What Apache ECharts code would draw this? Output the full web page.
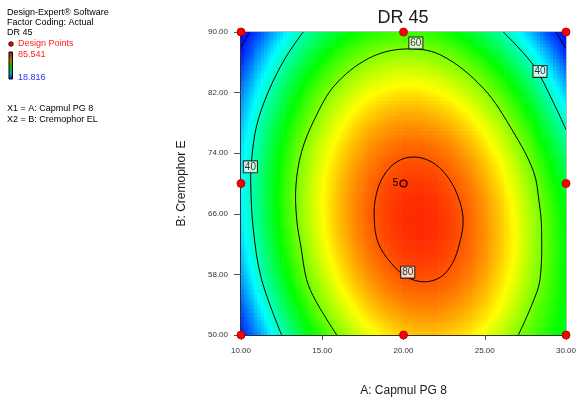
<!DOCTYPE html>
<html>
<head>
<meta charset="utf-8">
<script src="https://cdn.jsdelivr.net/npm/echarts@6/dist/echarts.min.js"></script>
<style>
  html, body { margin: 0; padding: 0; background: #fff; }
  #chart { width: 581px; height: 403px; }
</style>
</head>
<body>
<div id="chart"></div>
<script>
// A: Capmul PG 8 (columns) and B: Cremophor EL (rows) of the response grid
const capmulLevels = [10, 11, 12, 13, 14, 15, 16, 17, 18, 19, 20, 21, 22, 23, 24, 25, 26, 27, 28, 29, 30];
const cremophorLevels = [50, 52.5, 55, 57.5, 60, 62.5, 65, 67.5, 70, 72.5, 75, 77.5, 80, 82.5, 85, 87.5, 90];

// DR 45, one row per Cremophor level (bottom to top)
const dr45Grid = [
  [21.0, 27.6, 35.8, 43.2, 49.7, 55.4, 60.4, 64.5, 67.7, 70.2, 71.8, 72.7, 72.7, 71.8, 70.2, 67.7, 64.5, 60.4, 57.0, 53.5, 50.0],
  [22.5, 31.4, 39.5, 46.9, 53.3, 59.0, 63.9, 67.9, 71.1, 73.5, 75.0, 75.8, 75.7, 74.8, 73.1, 70.6, 67.2, 63.0, 58.6, 54.8, 51.0],
  [25.9, 34.8, 42.8, 50.1, 56.5, 62.1, 66.8, 70.8, 73.9, 76.2, 77.7, 78.3, 78.2, 77.2, 75.4, 72.8, 69.4, 65.1, 60.0, 55.8, 51.5],
  [28.8, 37.5, 45.5, 52.7, 59.0, 64.5, 69.2, 73.1, 76.1, 78.3, 79.8, 80.3, 80.1, 79.1, 77.2, 74.5, 71.0, 66.7, 61.5, 56.5, 51.5],
  [31.0, 39.7, 47.6, 54.7, 61.0, 66.4, 71.0, 74.8, 77.8, 79.9, 81.3, 81.8, 81.5, 80.4, 78.4, 75.7, 72.1, 67.7, 62.4, 57.0, 52.0],
  [32.8, 41.4, 49.2, 56.2, 62.4, 67.8, 72.3, 76.0, 78.9, 81.0, 82.2, 82.7, 82.3, 81.1, 79.1, 76.2, 72.5, 68.1, 62.8, 57.0, 52.0],
  [33.9, 42.5, 50.2, 57.2, 63.3, 68.5, 73.0, 76.6, 79.5, 81.5, 82.6, 83.0, 82.5, 81.3, 79.2, 76.2, 72.5, 67.9, 62.6, 56.8, 51.5],
  [34.6, 43.1, 50.7, 57.6, 63.6, 68.8, 73.2, 76.7, 79.5, 81.4, 82.5, 82.8, 82.2, 80.9, 78.7, 75.7, 71.9, 67.2, 61.8, 56.0, 50.5],
  [34.6, 43.0, 50.6, 57.4, 63.3, 68.5, 72.8, 76.2, 78.9, 80.8, 81.8, 82.0, 81.4, 79.9, 77.7, 74.6, 70.7, 66.0, 60.5, 54.5, 49.0],
  [34.1, 42.4, 49.9, 56.6, 62.5, 67.6, 71.8, 75.2, 77.8, 79.6, 80.5, 80.6, 80.0, 78.4, 76.1, 73.0, 69.0, 64.2, 58.6, 52.5, 46.5],
  [33.1, 41.4, 48.8, 55.4, 61.2, 66.2, 70.3, 73.6, 76.1, 77.8, 78.7, 78.7, 78.0, 76.4, 74.0, 70.7, 66.7, 61.8, 56.1, 50.0, 43.5],
  [31.5, 39.6, 47.0, 53.5, 59.2, 64.1, 68.2, 71.5, 73.9, 75.5, 76.3, 76.3, 75.4, 73.8, 71.3, 68.0, 63.9, 58.9, 53.2, 46.6, 40.0],
  [29.3, 37.4, 44.6, 51.1, 56.7, 61.6, 65.6, 68.8, 71.1, 72.7, 73.4, 73.3, 72.4, 70.6, 68.1, 64.7, 60.5, 55.5, 49.6, 43.0, 35.5],
  [26.6, 34.6, 41.8, 48.2, 53.7, 58.5, 62.4, 65.5, 67.8, 69.2, 69.9, 69.7, 68.7, 66.9, 64.2, 60.8, 56.5, 51.4, 45.5, 38.7, 31.2],
  [23.3, 31.2, 38.3, 44.6, 50.1, 54.8, 58.6, 61.7, 63.9, 65.3, 65.8, 65.6, 64.5, 62.6, 59.9, 56.4, 52.0, 46.8, 40.8, 34.0, 26.4],
  [19.5, 27.3, 34.4, 40.6, 46.0, 50.6, 54.4, 57.3, 59.4, 60.7, 61.2, 60.9, 59.7, 57.8, 55.0, 51.3, 46.9, 41.6, 35.6, 28.7, 21.0],
  [19.0, 22.8, 29.8, 36.0, 41.3, 45.8, 49.5, 52.4, 54.4, 55.6, 56.0, 55.6, 54.4, 52.4, 49.5, 45.8, 41.3, 36.0, 29.8, 22.8, 19.0]
];
const dr45Min = 18.816;
const dr45Max = 85.541;
const rampColors = ['#0000ff', '#00ffff', '#00ff00', '#ffff00', '#ff0000'];

const xTicks = [10, 15, 20, 25, 30];
const yTicks = [50, 58, 66, 74, 82, 90];

// design points; the centre point carries the replicate count
const designPoints = [[10, 50], [20, 50], [30, 50], [10, 70], [30, 70], [10, 90], [20, 90], [30, 90]];
const centerPoint = [[20, 70, 5]];

// contour lines
const contour20Left = [[10, 88.0], [10.55, 90]];
const contour20Right = [[29.38, 90], [30, 87.85]];
const contour40Left = [[13.83, 90], [12.71, 86.5], [11.68, 82.1], [10.97, 77.7], [10.66, 73.3], [10.6, 70], [10.76, 63.9], [11.27, 57.3], [12.5, 50]];
const contour40Right = [[26.14, 90], [28.0, 85.6], [29.2, 80.8], [30, 77.1]];
const contour60 = [[15.89, 50], [14.6, 54.5], [14.04, 57.3], [13.7, 61.5], [13.43, 65.2], [13.38, 69.7], [13.73, 74.2], [14.55, 78.6], [15.78, 83.0], [17.84, 86.5], [20.0, 87.75], [22.25, 87.0], [24.9, 82.6], [26.76, 76.8], [28.0, 71.6], [28.35, 67.5], [28.5, 63.9], [28.4, 57.3], [27.9, 54.0], [27.07, 50]];
const contour80 = [[20.6, 73.5], [21.69, 72.89], [22.64, 71.1], [23.33, 68.43], [23.67, 65.27], [23.45, 62.11], [23.0, 59.44], [22.29, 57.65], [21.28, 57.02], [20.21, 57.65], [19.26, 59.44], [18.45, 62.11], [18.2, 65.27], [18.31, 68.43], [18.8, 71.1], [19.61, 72.89]];
const contourLabels = [[20.76, 88.55, '60'], [28.4, 84.8, '40'], [10.58, 72.2, '40'], [20.26, 58.3, '80']];

const FONT = 'Arial, "Liberation Sans", sans-serif';
const SUB = 5; // pixel blocks per grid cell side when painting the surface

const nA = capmulLevels.length;
const nB = cremophorLevels.length;
const cells = [];
cremophorLevels.forEach((b, j) => {
  capmulLevels.forEach((a, i) => cells.push([a, b, dr45Grid[j][i]]));
});

function rampColor(v) {
  const t = Math.min(1, Math.max(0, (v - dr45Min) / (dr45Max - dr45Min)));
  return echarts.color.lerp(t, rampColors);
}

// paint the patch between neighbouring grid nodes in small blocks
function renderSurface(params, api) {
  const i = params.dataIndex % nA;
  const j = Math.floor(params.dataIndex / nA);
  if (i === nA - 1 || j === nB - 1) return null;
  const v00 = dr45Grid[j][i], v10 = dr45Grid[j][i + 1];
  const v01 = dr45Grid[j + 1][i], v11 = dr45Grid[j + 1][i + 1];
  const a0 = capmulLevels[i], a1 = capmulLevels[i + 1];
  const b0 = cremophorLevels[j], b1 = cremophorLevels[j + 1];
  const cs = params.coordSys;
  const children = [];
  for (let s = 0; s < SUB; s++) {
    for (let t = 0; t < SUB; t++) {
      const u = (s + 0.5) / SUB, w = (t + 0.5) / SUB;
      const v = v00 * (1 - u) * (1 - w) + v10 * u * (1 - w) + v01 * (1 - u) * w + v11 * u * w;
      const p0 = api.coord([a0 + (a1 - a0) * s / SUB, b0 + (b1 - b0) * (t + 1) / SUB]);
      const p1 = api.coord([a0 + (a1 - a0) * (s + 1) / SUB, b0 + (b1 - b0) * t / SUB]);
      const x1 = Math.min(p1[0] + 0.6, cs.x + cs.width);
      const y1 = Math.min(p1[1] + 0.6, cs.y + cs.height);
      children.push({
        type: 'rect',
        shape: { x: p0[0], y: p0[1], width: x1 - p0[0], height: y1 - p0[1] },
        style: { fill: rampColor(v) }
      });
    }
  }
  return { type: 'group', children: children };
}

// one contour per series, drawn as a smoothed path through its traced points
function contourSeries(points, closed) {
  return {
    type: 'custom', data: points, silent: true, z: 3,
    renderItem: (params, api) => {
      if (params.dataIndex !== 0) return null;
      const cs = params.coordSys;
      return {
        type: closed ? 'polygon' : 'polyline',
        shape: { points: points.map(p => api.coord(p)), smooth: 0.35 },
        style: { fill: 'none', stroke: '#000', lineWidth: 1 },
        clipPath: { type: 'rect', shape: { x: cs.x, y: cs.y, width: cs.width, height: cs.height } }
      };
    }
  };
}

const chart = echarts.init(document.getElementById('chart'));
chart.setOption({
  animation: false,
  title: {
    text: 'DR 45', left: 403, top: 9, padding: 0, textAlign: 'center',
    textStyle: { fontFamily: FONT, fontSize: 18, fontWeight: 'normal', color: '#1a1a1a' }
  },
  grid: { left: 241, right: 15, top: 32, bottom: 68, show: true, borderColor: '#777', borderWidth: 1 },
  xAxis: {
    type: 'value', min: 10, max: 30, interval: 5,
    name: 'A: Capmul PG 8', nameLocation: 'middle', nameGap: 50,
    nameTextStyle: { fontFamily: FONT, fontSize: 12, color: '#1a1a1a' },
    axisLine: { lineStyle: { color: '#000', width: 1.5 } },
    axisTick: { show: true, length: 5, lineStyle: { color: '#555' }, customValues: xTicks },
    axisLabel: { fontFamily: FONT, fontSize: 8, color: '#333', margin: 12, customValues: xTicks,
      formatter: v => v.toFixed(2) },
    splitLine: { show: false }
  },
  yAxis: {
    type: 'value', min: 50, max: 90,
    name: 'B: Cremophor E', nameLocation: 'middle', nameGap: 53,
    nameTextStyle: { fontFamily: FONT, fontSize: 12, color: '#1a1a1a' },
    axisLine: { show: true, lineStyle: { color: '#000', width: 1.5 } },
    axisTick: { show: true, length: 7, lineStyle: { color: '#555' }, customValues: yTicks },
    axisLabel: { fontFamily: FONT, fontSize: 8, color: '#333', margin: 13, customValues: yTicks,
      formatter: v => v.toFixed(2) },
    splitLine: { show: false }
  },
  series: [
    { type: 'custom', data: cells, silent: true, z: 1, renderItem: renderSurface },
    contourSeries(contour20Left, false),
    contourSeries(contour20Right, false),
    contourSeries(contour40Left, false),
    contourSeries(contour40Right, false),
    contourSeries(contour60, false),
    contourSeries(contour80, true),
    {
      type: 'scatter', data: contourLabels, symbolSize: 0, silent: true, z: 4,
      label: {
        show: true, position: 'inside', formatter: p => p.data[2],
        fontFamily: FONT, fontSize: 10, color: '#000', backgroundColor: '#fff',
        borderColor: '#000', borderWidth: 1, padding: [1, 1, 0, 1]
      }
    },
    {
      type: 'scatter', data: designPoints, symbolSize: 8, clip: false, silent: true, z: 5,
      itemStyle: { color: '#ff0000', borderColor: '#a00000', borderWidth: 0.8, opacity: 1 }
    },
    {
      type: 'scatter', data: centerPoint, symbolSize: 7, clip: false, silent: true, z: 5,
      itemStyle: { color: '#ff2a00', borderColor: '#000', borderWidth: 1.2, opacity: 1 },
      label: { show: true, position: 'left', distance: 1, formatter: p => p.data[2],
        fontFamily: FONT, fontSize: 10, color: '#000' }
    }
  ],
  graphic: [
    { type: 'text', left: 7, top: 8, style: { text: 'Design-Expert® Software', font: '9px ' + FONT, fill: '#000' } },
    { type: 'text', left: 7, top: 18, style: { text: 'Factor Coding: Actual', font: '9px ' + FONT, fill: '#000' } },
    { type: 'text', left: 7, top: 28.5, style: { text: 'DR 45', font: '9px ' + FONT, fill: '#000' } },
    { type: 'circle', shape: { cx: 11, cy: 44, r: 2.3 }, style: { fill: '#ff0000', stroke: '#000', lineWidth: 0.8 } },
    { type: 'text', left: 18, top: 39.5, style: { text: 'Design Points', font: '9px ' + FONT, fill: '#ff2020' } },
    {
      type: 'rect', shape: { x: 9, y: 52, width: 3.5, height: 27 },
      style: {
        stroke: '#000', lineWidth: 1,
        fill: new echarts.graphic.LinearGradient(0, 0, 0, 1, [
          { offset: 0, color: '#d00000' }, { offset: 0.3, color: '#a08000' },
          { offset: 0.55, color: '#00c000' }, { offset: 0.8, color: '#00a0c0' }, { offset: 1, color: '#0000d0' }
        ])
      }
    },
    { type: 'text', left: 18, top: 50.5, style: { text: dr45Max.toFixed(3), font: '9px ' + FONT, fill: '#ff2020' } },
    { type: 'text', left: 18, top: 73.5, style: { text: dr45Min.toFixed(3), font: '9px ' + FONT, fill: '#3030ff' } },
    { type: 'text', left: 7, top: 104.5, style: { text: 'X1 = A: Capmul PG 8', font: '9px ' + FONT, fill: '#000' } },
    { type: 'text', left: 7, top: 115, style: { text: 'X2 = B: Cremophor EL', font: '9px ' + FONT, fill: '#000' } }
  ]
});
</script>
</body>
</html>
